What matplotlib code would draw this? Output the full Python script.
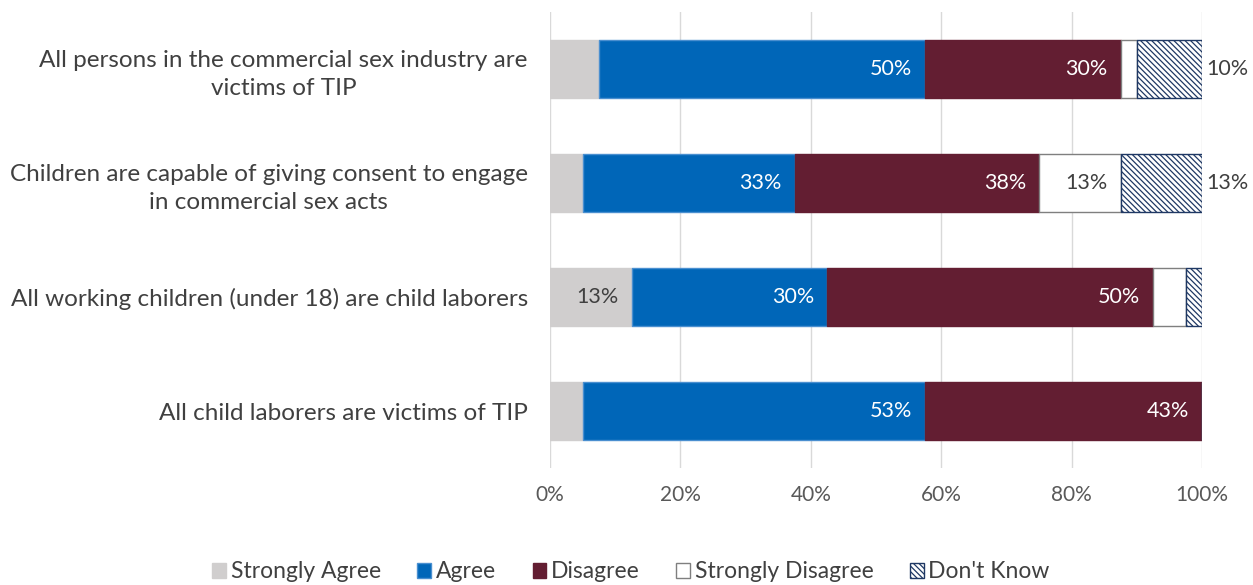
import math
import matplotlib
matplotlib.use("Agg")
import matplotlib.pyplot as plt
from matplotlib.patches import Patch

plt.rcParams["font.family"] = ["Lato", "DejaVu Sans"]
plt.rcParams["hatch.linewidth"] = 0.9

categories = [
    "All persons in the commercial sex industry are\nvictims of TIP",
    "Children are capable of giving consent to engage\nin commercial sex acts",
    "All working children (under 18) are child laborers",
    "All child laborers are victims of TIP",
]
series_names = ["Strongly Agree", "Agree", "Disagree", "Strongly Disagree", "Don't Know"]
strongly_agree = [7.5, 5.0, 12.5, 5.0]
agree = [50.0, 32.5, 30.0, 52.5]
disagree = [30.0, 37.5, 50.0, 42.5]
strongly_disagree = [2.5, 12.5, 5.0, 0.0]
dont_know = [10.0, 12.5, 2.5, 0.0]
tick_labels = ["0%", "20%", "40%", "60%", "80%", "100%"]

series = [strongly_agree, agree, disagree, strongly_disagree, dont_know]
faces = ["#D0CECE", "#0066B8", "#631E32", "white", "white"]
edges = ["#D0CECE", "#4A8FD0", "#631E32", "#7F7F7F", "#1F3864"]
hatches = [None, None, None, None, "\\" * 6]
text_colors = ["#404040", "white", "white", "#404040", "#404040"]

fig = plt.figure(figsize=(12.53, 5.85), dpi=100)
ax = fig.add_axes([550 / 1253, 1 - 468 / 585, 652 / 1253, 456 / 585])

ypos = list(range(len(categories)))
left = [0.0] * len(categories)
for k, vals in enumerate(series):
    ax.barh(ypos, vals, left=left, height=0.51, color=faces[k],
            edgecolor=edges[k], linewidth=1.0, hatch=hatches[k], zorder=3)
    for i, v in enumerate(vals):
        if v >= 10:
            label = f"{math.floor(v + 0.5)}%"
            end = left[i] + v
            if k == 4:
                ax.text(end + 0.6, ypos[i], label, ha="left", va="center",
                        color="#404040", fontsize=15.5, zorder=4)
            else:
                ax.text(end - 2.0, ypos[i], label, ha="right", va="center",
                        color=text_colors[k], fontsize=15.5, zorder=4)
    left = [l + v for l, v in zip(left, vals)]

ax.set_xlim(0, 100)
ax.set_ylim(len(categories) - 0.5, -0.5)
ax.set_xticks([0, 20, 40, 60, 80, 100])
ax.set_xticklabels(tick_labels, fontsize=15, color="#595959")
ax.set_yticks(ypos)
ax.set_yticklabels(categories, fontsize=17.5, color="#404040", linespacing=1.4)
for lab in ax.get_yticklabels():
    lab.set_multialignment("center")
ax.tick_params(axis="y", length=0, pad=16)
ax.tick_params(axis="x", length=0, pad=12)
ax.grid(axis="x", color="#D9D9D9", linewidth=1.0, zorder=0)
for s in ax.spines.values():
    s.set_visible(False)

handles = [Patch(facecolor=faces[k], edgecolor=edges[k], hatch=hatches[k],
                 linewidth=1.0, label=series_names[k]) for k in range(5)]
fig.legend(handles=handles, loc="center", bbox_to_anchor=(631 / 1253, 1 - 572 / 585),
           ncol=5, frameon=False, fontsize=16.5, handlelength=0.6, handleheight=0.6,
           handletextpad=0.2, columnspacing=1.6, labelcolor="#404040")

fig.savefig("out.png", dpi=100)
